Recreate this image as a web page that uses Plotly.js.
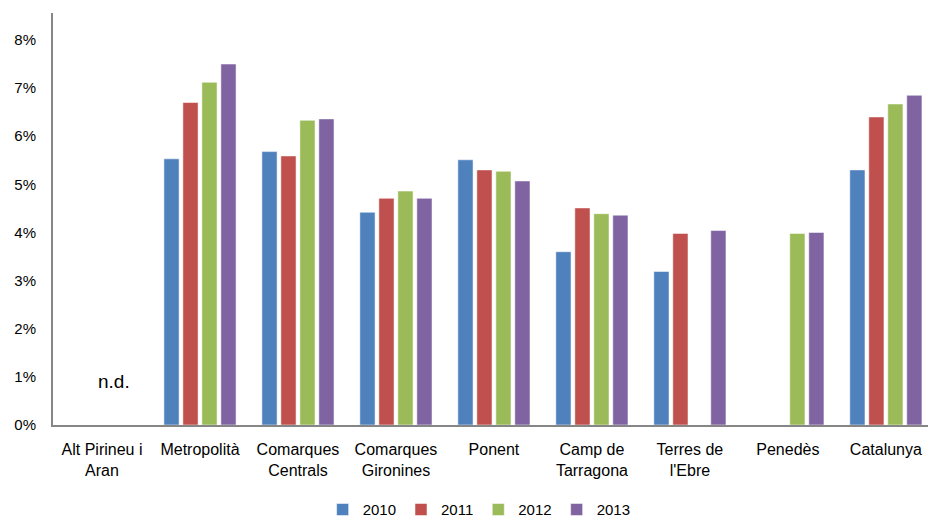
<!DOCTYPE html>
<html><head><meta charset="utf-8">
<script src="https://cdn.plot.ly/plotly-3.0.1.min.js"></script>
<style>html,body{margin:0;padding:0;background:#fff}</style>
</head><body><div id="chart" style="width:928px;height:517px"></div>
<script>
const categories = ["Alt Pirineu i<br>Aran","Metropolità","Comarques<br>Centrals","Comarques<br>Gironines","Ponent","Camp de<br>Tarragona","Terres de<br>l'Ebre","Penedès","Catalunya"];
const years = ["2010","2011","2012","2013"];
const v2010 = [null, 5.53, 5.68, 4.42, 5.51, 3.60, 3.19, null, 5.30];
const v2011 = [null, 6.70, 5.59, 4.71, 5.30, 4.51, 3.98, null, 6.40];
const v2012 = [null, 7.12, 6.33, 4.86, 5.27, 4.39, null, 3.98, 6.67];
const v2013 = [null, 7.50, 6.36, 4.71, 5.07, 4.36, 4.04, 4.00, 6.85];
const yTicks = [0,1,2,3,4,5,6,7,8];
const colors = ["#4F81BD","#C0504D","#9BBB59","#8064A2"];
const series = [v2010, v2011, v2012, v2013];
const font = "Liberation Sans, Arial, sans-serif";
const traces = series.map((s,i)=>({
  type:"bar", name:years[i], x:categories, y:s,
  marker:{color:colors[i], line:{color:"rgba(255,255,255,0.5)", width:1}},
  hoverinfo:"skip"
}));
const layout = {
  width:928, height:517,
  margin:{l:53, r:0, t:13, b:92},
  paper_bgcolor:"#fff", plot_bgcolor:"#fff",
  barmode:"group", bargap:0.225, bargroupgap:0.2,
  font:{family:font, size:16, color:"#000"},
  xaxis:{type:"category", range:[-0.5, 8.43], showline:true, linecolor:"#868686", linewidth:2,
    showgrid:false, ticks:"", tickangle:0, ticklabelstandoff:9, tickfont:{family:font, size:16}, fixedrange:true, automargin:false},
  yaxis:{range:[0,8.56], tickvals:yTicks, ticktext:yTicks.map(v=>v+"%"), showline:true,
    linecolor:"#868686", linewidth:2, showgrid:false, zeroline:false, ticks:"",
    ticklabelstandoff:12, tickfont:{family:font, size:15}, fixedrange:true, automargin:false},
  legend:{orientation:"h", x:0.487, xanchor:"center", yref:"container", y:0.014, yanchor:"middle",
    font:{family:font, size:15}, itemwidth:30, traceorder:"normal"},
  annotations:[{x:categories[0], y:0.9, xref:"x", yref:"y", text:"n.d.", showarrow:false,
    font:{family:font, size:19, color:"#000"}, xshift:12}]
};
Plotly.newPlot("chart", traces, layout, {displayModeBar:false, staticPlot:true});
</script></body></html>
